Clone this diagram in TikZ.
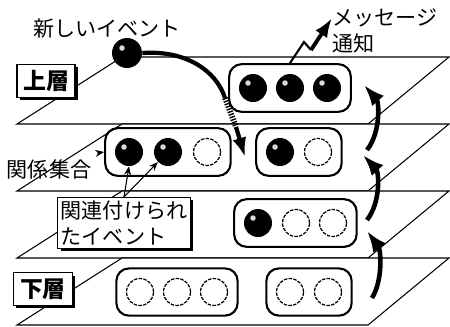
\documentclass[tikz,border=0pt]{standalone}
\usepackage{fontspec}
\setmainfont{Noto Sans CJK JP}
\usetikzlibrary{arrows.meta,fit,shadows}

\begin{document}
\begin{tikzpicture}[x=0.02cm,y=-0.02cm,
    font=\fontsize{12pt}{15pt}\selectfont,
    plane/.style={draw,fill=white,line width=0.6pt},
    hitball/.style={circle,fill=black,minimum size=0.56cm,inner sep=0pt,
      path picture={\fill[white!70!gray] ([shift={(-0.1cm,0.1cm)}]path picture bounding box.center) circle (0.055cm);}},
    freeball/.style={circle,draw,fill=white,minimum size=0.54cm,inner sep=0pt,line width=0.7pt,dash pattern=on 2pt off 0.7pt},
    tray/.style={draw,rounded corners=0.25cm,line width=1.2pt,inner sep=0.19cm},
    tag/.style={draw,fill=white,line width=0.8pt,drop shadow={shadow xshift=1.6pt,shadow yshift=-1.6pt,opacity=1,fill=black}},
    link/.style={-{Stealth[length=5pt,width=4pt]},line width=0.6pt},
    rise/.style={line width=2.6pt,-{Latex[length=12pt,width=9pt]}},
    flow/.style={line width=2.4pt}]
      \useasboundingbox (0,0) rectangle (450,326);
      % layers
      \draw[plane] (17,124) -- (122,57) -- (449,57) -- (368,124) -- cycle;
      \draw[plane] (17,191) -- (122,124) -- (449,124) -- (368,191) -- cycle;
      \draw[plane] (17,258) -- (122,191) -- (449,191) -- (368,258) -- cycle;
      \draw[plane] (17,325) -- (122,258) -- (449,258) -- (368,325) -- cycle;
      % upper layer
      \node[hitball] (u1) at (253,88) {};
      \node[hitball] (u2) at (290,88) {};
      \node[hitball] (u3) at (327,88) {};
      \node[tray,fit=(u1)(u3)] (utray) {};
      % second layer
      \node[hitball] (a1) at (129,152) {};
      \node[hitball] (a2) at (168,152) {};
      \node[freeball] (a3) at (207,152) {};
      \node[tray,fit=(a1)(a3)] (atray) {};
      \node[hitball] (b1) at (280,152) {};
      \node[freeball] (b2) at (318,152) {};
      \node[tray,fit=(b1)(b2)] (btray) {};
      % third layer
      \node[hitball] (c1) at (258,223) {};
      \node[freeball] (c2) at (296,223) {};
      \node[freeball] (c3) at (333,223) {};
      \node[tray,fit=(c1)(c3)] (ctray) {};
      % lower layer
      \node[freeball] (d1) at (140,292) {};
      \node[freeball] (d2) at (177,292) {};
      \node[freeball] (d3) at (214,292) {};
      \node[tray,fit=(d1)(d3)] (dtray) {};
      \node[freeball] (e1) at (290,292) {};
      \node[freeball] (e2) at (328,292) {};
      \node[tray,fit=(e1)(e2)] (etray) {};
      % labels
      \node[hitball,minimum size=0.6cm] (ev) at (127,53) {};
      \node (evtext) at (107,29) {新しいイベント};
      \node[tag,font=\fontsize{13pt}{15pt}\selectfont\bfseries,minimum width=1.16cm,minimum height=0.5cm] (upper) at (46,81) {上層};
      \node[tag,font=\fontsize{13pt}{15pt}\selectfont\bfseries,minimum width=1.18cm,minimum height=0.45cm] (lower) at (43,289) {下層};
      \node (settext) at (49,169) {関係集合};
      \node[tag,align=left,inner sep=0.06cm] (rel) at (124,223) {関連付けられ\\たイベント};
      \node[align=left,anchor=west,inner sep=0pt] (msg) at (332,31) {メッセージ\\通知};
      \draw[link] (settext.north east) -- (atray.west);
      \draw[link] (rel.north) -- (a1.south);
      \draw[link] (rel.north) -- (a2.south west);
      % new event drops in
      \coordinate (h1) at (225,98);
      \coordinate (h2) at (236,127);
      \coordinate (drop) at (245,157);
      \draw[flow] (ev.east) .. controls (185,50) and (216,70) .. (h1);
      \draw[flow,line width=3.2pt,dash pattern=on 0.8pt off 0.8pt] (h1) -- (h2);
      \draw[flow,-{Latex[length=11pt,width=8pt]}] (h2) -- (drop);
      % notification
      \coordinate (z1) at (304,42);
      \coordinate (z2) at (311,50);
      \coordinate (ztip) at (332,18);
      \draw[line width=1.2pt,line join=miter] (utray.north) -- (z1) -- (z2);
      \draw[line width=2.2pt,-{Latex[length=11pt,width=8pt]}] (z2) -- (ztip);
      % propagation upwards
      \coordinate (r1) at (372,298);
      \coordinate (r2) at (367,231);
      \coordinate (r3) at (367,220);
      \coordinate (r4) at (363,155);
      \coordinate (r5) at (367,150);
      \coordinate (r6) at (364,85);
      \draw[rise] (r1) .. controls (383,280) and (381,250) .. (r2);
      \draw[rise] (r3) .. controls (381,202) and (379,172) .. (r4);
      \draw[rise] (r5) .. controls (381,132) and (379,102) .. (r6);
    \end{tikzpicture}
\end{document}
